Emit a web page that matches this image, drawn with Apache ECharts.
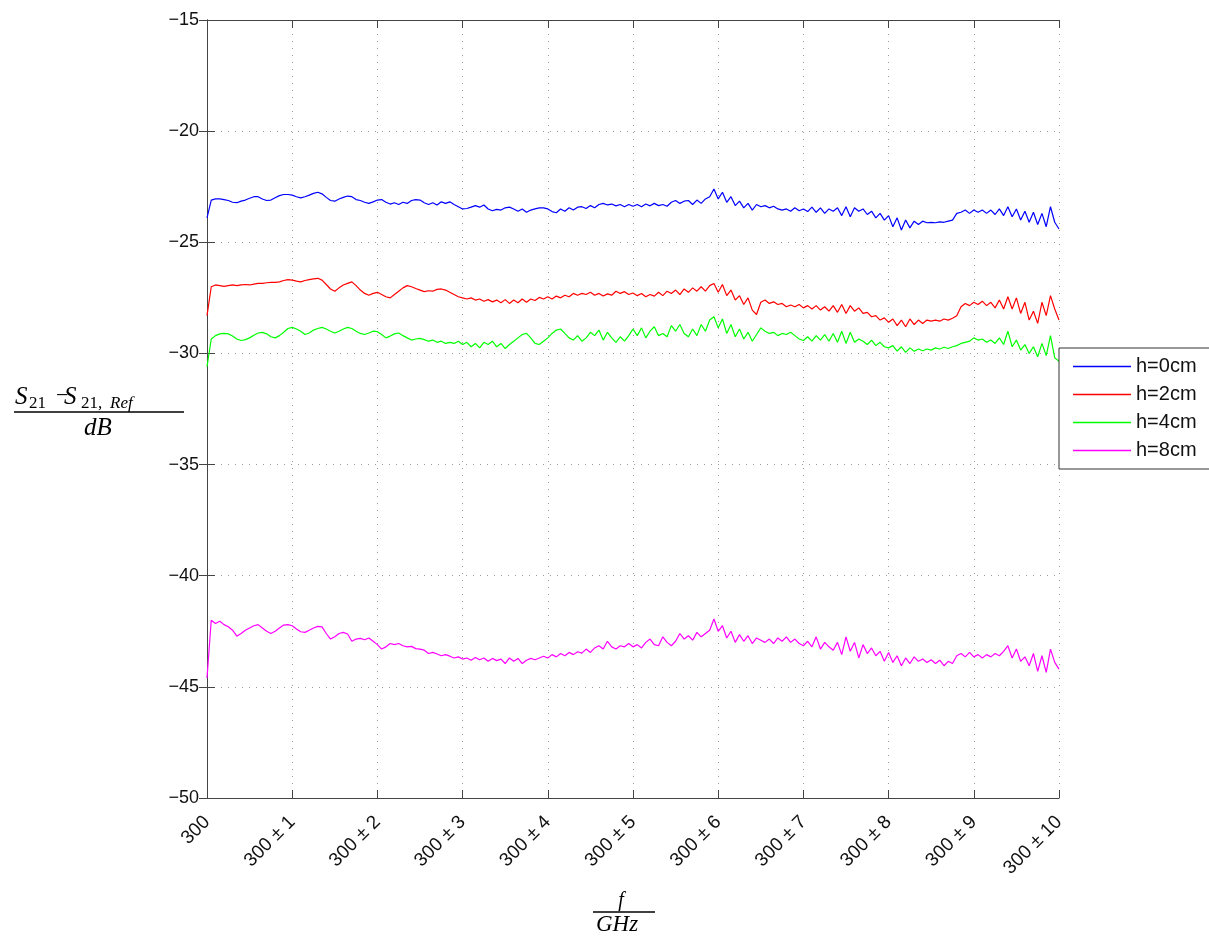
<!DOCTYPE html>
<html>
<head>
<meta charset="utf-8">
<script src="https://cdn.jsdelivr.net/npm/echarts@6/dist/echarts.min.js"></script>
<style>
  html, body { margin: 0; padding: 0; background: #fff; }
  #chart { width: 1209px; height: 936px; }
</style>
</head>
<body>
<div id="chart"></div>
<script>
// Transmission difference S21 - S21,Ref over frequency offset, four heights.
// Samples every 0.05 GHz from offset 0 to 10.
const freqStep = 0.05;

const seriesNames = ['h=0cm', 'h=2cm', 'h=4cm', 'h=8cm'];
const seriesColors = ['#0000ff', '#ff0000', '#00ff00', '#ff00ff'];

const xTickLabels = ['300', '300 \u00b1 1', '300 \u00b1 2', '300 \u00b1 3', '300 \u00b1 4',
  '300 \u00b1 5', '300 \u00b1 6', '300 \u00b1 7', '300 \u00b1 8', '300 \u00b1 9', '300 \u00b1 10'];

const h0 = [
  -23.9, -23.1, -23.05, -23.05, -23.08, -23.12, -23.2, -23.22, -23.15, -23.1,
  -23.02, -22.95, -22.95, -23.05, -23.12, -23.1, -23.0, -22.9, -22.85, -22.85,
  -22.88, -22.95, -23.0, -22.95, -22.88, -22.8, -22.75, -22.82, -22.98, -23.12,
  -23.15, -23.05, -22.98, -22.92, -22.95, -23.08, -23.12, -23.2, -23.25, -23.18,
  -23.1, -23.08, -23.2, -23.28, -23.22, -23.3, -23.2, -23.25, -23.12, -23.08,
  -23.1, -23.22, -23.3, -23.22, -23.32, -23.18, -23.25, -23.18, -23.3, -23.4,
  -23.5, -23.48, -23.42, -23.35, -23.42, -23.32, -23.5, -23.58, -23.52, -23.55,
  -23.45, -23.42, -23.5, -23.6, -23.5, -23.65, -23.55, -23.5, -23.45, -23.45,
  -23.5, -23.62, -23.67, -23.5, -23.6, -23.45, -23.55, -23.42, -23.4, -23.48,
  -23.35, -23.45, -23.3, -23.25, -23.32, -23.28, -23.36, -23.3, -23.4, -23.3,
  -23.38, -23.3, -23.4, -23.28, -23.36, -23.25, -23.35, -23.3, -23.38, -23.2,
  -23.12, -23.25, -23.15, -23.12, -23.3, -23.1, -23.25, -23.05, -22.95, -22.6,
  -23.05, -22.75, -23.2, -22.95, -23.35, -23.15, -23.45, -23.25, -23.55, -23.3,
  -23.4, -23.35, -23.45, -23.38, -23.5, -23.55, -23.5, -23.6, -23.45, -23.58,
  -23.5, -23.62, -23.42, -23.65, -23.45, -23.7, -23.5, -23.6, -23.45, -23.8,
  -23.4, -23.85, -23.45, -23.6, -23.5, -23.75, -23.6, -23.9, -23.7, -24.0,
  -23.8, -24.3, -23.9, -24.45, -24.0, -24.35, -24.05, -24.2, -24.05, -24.12,
  -24.1, -24.12, -24.08, -24.1, -24.05, -24.0, -23.7, -23.65, -23.55, -23.7,
  -23.55, -23.65, -23.55, -23.7, -23.55, -23.75, -23.5, -23.8, -23.4, -23.85,
  -23.5, -24.0, -23.6, -24.1, -23.65, -24.2, -23.7, -24.3, -23.4, -24.1,
  -24.4
];

const h2 = [
  -28.3, -27.0, -26.92, -26.95, -26.98, -26.95, -26.92, -26.95, -26.92, -26.9,
  -26.92, -26.88, -26.85, -26.85, -26.82, -26.8, -26.8, -26.78, -26.72, -26.68,
  -26.7, -26.75, -26.78, -26.72, -26.68, -26.65, -26.62, -26.7, -26.9, -27.1,
  -27.2, -27.05, -26.92, -26.85, -26.78, -26.95, -27.15, -27.3, -27.38, -27.3,
  -27.25, -27.35, -27.45, -27.5, -27.35, -27.2, -27.05, -26.95, -27.0, -27.08,
  -27.15, -27.22, -27.18, -27.2, -27.12, -27.1, -27.15, -27.25, -27.35, -27.45,
  -27.5, -27.55, -27.5, -27.6, -27.55, -27.65, -27.58, -27.68, -27.6, -27.72,
  -27.58, -27.75, -27.6, -27.72, -27.55, -27.7, -27.55, -27.62, -27.48, -27.55,
  -27.45, -27.55, -27.42, -27.5, -27.38, -27.45, -27.3, -27.38, -27.3, -27.35,
  -27.25, -27.38, -27.3, -27.42, -27.32, -27.38, -27.2, -27.3, -27.22, -27.35,
  -27.28, -27.4, -27.3, -27.45, -27.35, -27.42, -27.25, -27.4, -27.2, -27.3,
  -27.15, -27.35, -27.1, -27.25, -27.05, -27.2, -27.0, -27.2, -26.95, -26.85,
  -27.25, -26.9, -27.4, -27.15, -27.6, -27.4, -27.8, -27.5, -28.05, -28.25,
  -27.7, -27.6, -27.75, -27.68, -27.8, -27.75, -27.9, -27.82, -27.9, -27.8,
  -27.95, -27.85, -28.0, -27.85, -28.05, -27.9, -28.1, -27.85, -28.15, -27.8,
  -28.2, -27.85, -28.1, -27.95, -28.2, -28.15, -28.35, -28.3, -28.5, -28.4,
  -28.6, -28.45, -28.75, -28.5, -28.8, -28.45, -28.7, -28.5, -28.65, -28.5,
  -28.55, -28.5, -28.55, -28.45, -28.5, -28.42, -28.3, -27.9, -27.75, -27.85,
  -27.7, -27.8, -27.65, -27.85, -27.7, -27.95, -27.6, -28.0, -27.45, -28.0,
  -27.5, -28.2, -27.7, -28.5, -28.1, -28.65, -27.7, -28.3, -27.4, -28.0,
  -28.5
];

const h4 = [
  -30.6, -29.35, -29.2, -29.12, -29.1, -29.12, -29.22, -29.35, -29.42, -29.38,
  -29.3, -29.18, -29.08, -29.05, -29.12, -29.25, -29.3, -29.2, -29.05, -28.88,
  -28.83, -28.9, -29.0, -29.15, -29.08, -28.95, -28.88, -28.83, -28.9, -29.0,
  -29.08, -29.0, -28.9, -28.83, -28.88, -29.0, -29.1, -29.15, -29.08, -29.0,
  -29.02, -29.15, -29.3, -29.22, -29.12, -29.08, -29.2, -29.3, -29.4, -29.35,
  -29.32, -29.38, -29.45, -29.4, -29.5, -29.45, -29.55, -29.5, -29.55, -29.45,
  -29.6, -29.5, -29.7, -29.55, -29.75, -29.5, -29.6, -29.45, -29.7, -29.55,
  -29.78, -29.6, -29.45, -29.3, -29.15, -29.1, -29.3, -29.55, -29.6, -29.45,
  -29.3, -29.1, -28.95, -28.9, -29.1, -29.3, -29.4, -29.2, -29.45, -29.3,
  -29.05, -29.2, -28.95, -29.4, -29.05, -29.3, -29.5, -29.25, -29.45, -29.2,
  -28.9, -29.2, -28.85, -29.3, -29.0, -28.8, -29.2, -29.1, -29.25, -28.75,
  -29.0, -28.7, -29.1, -29.25, -28.9, -29.2, -28.7, -29.0, -28.5, -28.35,
  -28.85, -28.45, -29.1, -28.7, -29.25, -28.9, -29.35, -29.05, -29.45, -29.15,
  -28.85, -29.0, -29.1, -29.05, -29.2, -29.1, -29.15, -29.05, -29.2, -29.35,
  -29.42, -29.25, -29.45, -29.2, -29.4, -29.15, -29.45, -29.1, -29.5, -29.0,
  -29.55, -29.05, -29.5, -29.35, -29.45, -29.6, -29.4, -29.65, -29.5, -29.7,
  -29.75, -29.65, -29.9, -29.7, -29.95, -29.75, -29.9, -29.8, -29.88, -29.8,
  -29.85, -29.75, -29.8, -29.72, -29.78, -29.7, -29.65, -29.55, -29.5, -29.45,
  -29.3, -29.4, -29.35, -29.5, -29.4, -29.55, -29.3, -29.6, -29.0, -29.7,
  -29.4, -29.85, -29.6, -30.0, -29.7, -30.15, -29.55, -30.1, -29.2, -30.2,
  -30.35
];

const h8 = [
  -44.6, -42.0, -42.15, -42.05, -42.2, -42.3, -42.45, -42.72, -42.6, -42.45,
  -42.35, -42.25, -42.2, -42.35, -42.5, -42.6, -42.5, -42.35, -42.22, -42.2,
  -42.25, -42.4, -42.52, -42.55, -42.45, -42.35, -42.28, -42.3, -42.6, -42.85,
  -42.75, -42.6, -42.55, -42.62, -42.95, -42.85, -42.82, -42.88, -42.8, -42.95,
  -43.1, -43.3, -43.2, -43.05, -43.1, -43.05, -43.15, -43.2, -43.18, -43.28,
  -43.3, -43.35, -43.5, -43.45, -43.52, -43.6, -43.55, -43.62, -43.7, -43.65,
  -43.75, -43.7, -43.8, -43.68, -43.78, -43.7, -43.85, -43.72, -43.82, -43.75,
  -43.95, -43.7, -43.85, -43.72, -43.95, -43.8, -43.72, -43.78, -43.7, -43.62,
  -43.7, -43.55, -43.65, -43.5, -43.6, -43.45, -43.55, -43.42, -43.48, -43.3,
  -43.45, -43.25, -43.15, -43.3, -42.95, -43.2, -43.3, -43.15, -43.2, -43.05,
  -43.2, -43.1, -43.25, -43.0, -42.85, -43.1, -43.15, -42.75, -43.0, -43.15,
  -42.95, -42.6, -42.85, -42.7, -42.9, -42.55, -42.75, -42.6, -42.45, -41.95,
  -42.5, -42.25, -42.8, -42.5, -43.0, -42.65, -42.95, -42.7, -43.05, -42.8,
  -42.9, -43.0, -42.85, -43.05, -42.8, -42.95, -42.75, -43.0, -42.85, -43.05,
  -43.15, -42.95, -43.2, -42.75, -43.3, -43.0, -43.2, -43.35, -43.0, -43.55,
  -42.75, -43.4, -43.0, -43.7, -43.1, -43.5, -43.25, -43.6, -43.4, -43.85,
  -43.45, -43.9, -43.6, -44.05, -43.7, -43.95, -43.65, -43.85, -43.75, -43.9,
  -43.78, -43.95, -43.8, -44.05, -43.85, -43.95, -43.6, -43.5, -43.65, -43.45,
  -43.65, -43.55, -43.7, -43.55, -43.65, -43.5, -43.6, -43.4, -43.15, -43.7,
  -43.3, -43.85, -43.65, -44.05, -43.5, -44.3, -43.6, -44.35, -43.3, -43.9,
  -44.2
];

const seriesValues = [h0, h2, h4, h8];

const tickFont = '"Liberation Sans", Arial, sans-serif';
const mathFont = '"Liberation Serif", "DejaVu Serif", serif';
const frameColor = '#444';

function pairs(values) {
  return values.map((v, i) => [+(i * freqStep).toFixed(2), v]);
}

const chart = echarts.init(document.getElementById('chart'), null, { renderer: 'canvas' });

const gridLine = { show: true, lineStyle: { color: '#9a9a9a', type: [1, 6], width: 1 } };

const option = {
  animation: false,
  backgroundColor: '#fff',
  grid: { left: 207, right: 150, top: 20, bottom: 138, containLabel: false },
  xAxis: [
    {
      type: 'value', position: 'bottom', min: 0, max: 10, interval: 1,
      axisLine: { show: true, lineStyle: { color: frameColor, width: 1 } },
      axisTick: { show: true, inside: true, length: 8, lineStyle: { color: frameColor } },
      axisLabel: {
        show: true, rotate: 45, margin: 21, color: '#111',
        fontFamily: tickFont, fontSize: 19,
        formatter: v => xTickLabels[Math.round(v)] ?? ''
      },
      splitLine: gridLine
    },
    {
      type: 'value', position: 'top', min: 0, max: 10, interval: 1,
      axisLine: { show: true, lineStyle: { color: frameColor, width: 1 } },
      axisTick: { show: true, inside: true, length: 8, lineStyle: { color: frameColor } },
      axisLabel: { show: false },
      splitLine: { show: false }
    }
  ],
  yAxis: [
    {
      type: 'value', position: 'left', min: -50, max: -15, interval: 5,
      axisLine: { show: true, lineStyle: { color: frameColor, width: 1 } },
      axisTick: { show: true, inside: true, length: 8, lineStyle: { color: frameColor } },
      axisLabel: {
        show: true, margin: 8, color: '#111', fontFamily: tickFont, fontSize: 18,
        formatter: v => String(v).replace('-', '\u2212')
      },
      splitLine: gridLine
    },
    {
      type: 'value', position: 'right', min: -50, max: -15, interval: 5,
      axisLine: { show: true, lineStyle: { color: frameColor, width: 1 } },
      axisTick: { show: true, inside: true, length: 8, lineStyle: { color: frameColor } },
      axisLabel: { show: false },
      splitLine: { show: false }
    }
  ],
  legend: {
    orient: 'vertical', left: 1059, top: 348,
    icon: 'rect', itemWidth: 58, itemHeight: 1.5, itemGap: 7,
    padding: [8, 90, 8, 14],
    borderColor: '#333', borderWidth: 1, backgroundColor: '#fff',
    textStyle: { fontFamily: tickFont, fontSize: 20, color: '#111', lineHeight: 21 },
    data: seriesNames
  },
  series: seriesNames.map((name, k) => ({
    name: name,
    type: 'line',
    xAxisIndex: 0, yAxisIndex: 0,
    data: pairs(seriesValues[k]),
    showSymbol: false, symbol: 'none',
    color: seriesColors[k],
    lineStyle: { color: seriesColors[k], width: 1.2 },
    z: 3
  })),
  graphic: [
    // y-axis title: (S21 - S21,Ref) / dB
    { type: 'text', x: 15, y: 397, style: { text: 'S', font: 'italic 25px ' + mathFont, fill: '#000', verticalAlign: 'middle' } },
    { type: 'text', x: 29, y: 404, style: { text: '21', font: '17px ' + mathFont, fill: '#000', verticalAlign: 'middle' } },
    { type: 'text', x: 56, y: 396, style: { text: '\u2212', font: '22px ' + mathFont, fill: '#000', verticalAlign: 'middle' } },
    { type: 'text', x: 64, y: 397, style: { text: 'S', font: 'italic 25px ' + mathFont, fill: '#000', verticalAlign: 'middle' } },
    { type: 'text', x: 81, y: 404, style: { text: '21,', font: '17px ' + mathFont, fill: '#000', verticalAlign: 'middle' } },
    { type: 'text', x: 110, y: 404, style: { text: 'Ref', font: 'italic 17px ' + mathFont, fill: '#000', verticalAlign: 'middle' } },
    { type: 'line', shape: { x1: 14, y1: 412, x2: 184, y2: 412 }, style: { stroke: '#000', lineWidth: 1.3 } },
    { type: 'text', x: 98, y: 428, style: { text: 'dB', font: 'italic 25px ' + mathFont, fill: '#000', align: 'center', verticalAlign: 'middle' } },
    // x-axis title: f / GHz
    { type: 'text', x: 621, y: 901, style: { text: 'f', font: 'italic 20px ' + mathFont, fill: '#000', align: 'center', verticalAlign: 'middle' } },
    { type: 'line', shape: { x1: 593, y1: 912, x2: 655, y2: 912 }, style: { stroke: '#000', lineWidth: 1.3 } },
    { type: 'text', x: 617, y: 925, style: { text: 'GHz', font: 'italic 23px ' + mathFont, fill: '#000', align: 'center', verticalAlign: 'middle' } }
  ]
};

chart.setOption(option);
</script>
</body>
</html>
